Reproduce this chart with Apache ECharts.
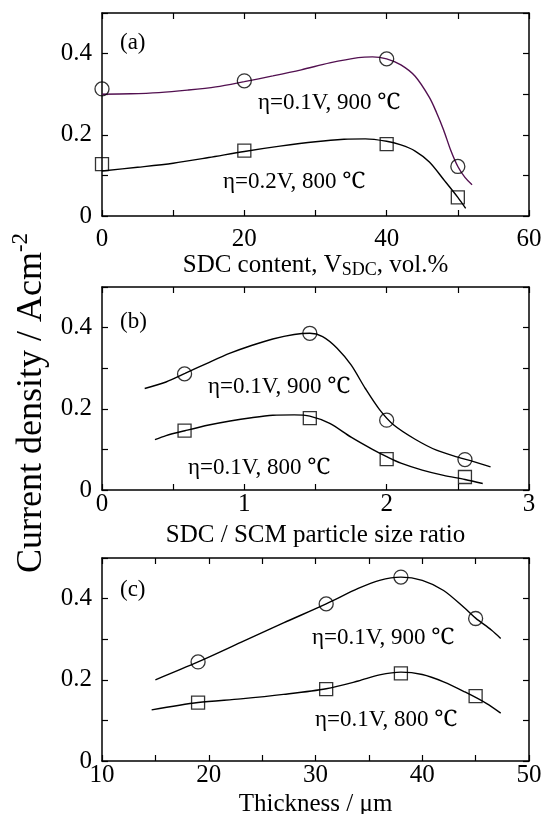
<!DOCTYPE html>
<html>
<head>
<meta charset="utf-8">
<script src="https://cdn.jsdelivr.net/npm/echarts@6/dist/echarts.min.js"></script>
<style>html,body{margin:0;padding:0;background:#fff}#c{width:543px;height:814px}</style>
</head>
<body>
<div id="c"></div>
<script>
// ---------- data ----------
// Panel (a): SDC content (vol.%)
const aX = [0, 20, 40, 50];
const a900 = [0.313, 0.333, 0.387, 0.122];
const a800 = [0.128, 0.161, 0.177, 0.046];
const aFit900 = [[0,0.300],[4,0.301],[8,0.304],[12,0.310],[16,0.318],[20,0.331],[24,0.345],[28,0.360],[32,0.377],[36,0.390],[38,0.392],[40,0.387],[42,0.372],[44,0.344],[46,0.292],[47,0.255],[48,0.212],[49,0.162],[50,0.122],[51,0.095],[52,0.077]];
const aFit800 = [[0,0.111],[5,0.120],[10,0.130],[15,0.144],[20,0.159],[25,0.172],[30,0.183],[34,0.189],[37,0.190],[40,0.184],[42,0.175],[44,0.160],[46,0.133],[48,0.090],[50,0.046],[51.1,0.019]];

// Panel (b): SDC / SCM particle size ratio
const bX = [0.58, 1.46, 2.0, 2.55];
const b900 = [0.286, 0.386, 0.172, 0.075];
const b800 = [0.146, 0.177, 0.076, 0.032];
const bFit900 = [[0.30,0.250],[0.45,0.266],[0.583,0.287],[0.75,0.314],[0.9,0.337],[1.05,0.356],[1.2,0.372],[1.35,0.383],[1.46,0.386],[1.55,0.378],[1.65,0.350],[1.75,0.308],[1.85,0.250],[1.95,0.198],[2.05,0.160],[2.2,0.125],[2.35,0.098],[2.5,0.081],[2.6,0.071],[2.73,0.057]];
const bFit800 = [[0.372,0.124],[0.45,0.134],[0.583,0.146],[0.75,0.160],[0.9,0.170],[1.05,0.178],[1.2,0.184],[1.35,0.185],[1.46,0.182],[1.6,0.164],[1.75,0.130],[1.9,0.100],[2.0,0.082],[2.1,0.066],[2.25,0.049],[2.4,0.036],[2.55,0.026],[2.675,0.016]];

// Panel (c): Thickness (um)
const cX = [19, 31, 38, 45];
const c900 = [0.244, 0.387, 0.453, 0.351];
const c800 = [0.144, 0.177, 0.216, 0.160];
const cFit900 = [[15,0.200],[19,0.244],[23,0.292],[27,0.340],[31,0.387],[34,0.425],[36,0.445],[38,0.453],[40,0.445],[42,0.420],[44,0.376],[45,0.352],[46.5,0.322],[47.35,0.302]];
const cFit800 = [[14.65,0.126],[19,0.144],[23,0.153],[27,0.164],[31,0.178],[34,0.197],[36,0.212],[38,0.219],[40,0.213],[42,0.195],[44,0.170],[46,0.142],[47.35,0.118]];

const xTitles = ['SDC content, V{sub|SDC}, vol.%', 'SDC / SCM particle size ratio', 'Thickness / \u03bcm'];
const yTitle = 'Current density / Acm{sup|-2}';
const panelTags = ['(a)', '(b)', '(c)'];
const labels900 = ['\u03b7=0.1V, 900 \u2103', '\u03b7=0.1V, 900 \u2103', '\u03b7=0.1V, 900 \u2103'];
const labels800 = ['\u03b7=0.2V, 800 \u2103', '\u03b7=0.1V, 800 \u2103', '\u03b7=0.1V, 800 \u2103'];

// ---------- layout / style ----------
const FONT = '"Times New Roman", "Liberation Serif", "Noto Serif", serif';
const grids = [
  {left: 102, right: 14, top: 13, height: 203},
  {left: 102, right: 14, top: 287, height: 203},
  {left: 102, right: 14, top: 558, height: 203}
];
const xCfg = [
  {min: 0, max: 60, interval: 10, labelEvery: 20, margin: 11},
  {min: 0, max: 3, interval: 0.5, labelEvery: 1, margin: 2},
  {min: 10, max: 50, interval: 5, labelEvery: 10, margin: 2}
];
const titleY = [265, 535, 804];

function fmtEvery(step) {
  return function (v) {
    const r = v / step;
    return Math.abs(r - Math.round(r)) < 1e-6 ? String(Math.round(v * 1000) / 1000) : '';
  };
}
const lineStyleAxis = {color: '#000', width: 1.5};
const tickStyle = {show: true, inside: true, length: 6, lineStyle: {color: '#000', width: 1.2}};

const xAxes = [], yAxes = [], series = [], graphic = [];
grids.forEach((g, i) => {
  const xc = xCfg[i];
  xAxes.push({
    gridIndex: i, type: 'value', position: 'bottom', min: xc.min, max: xc.max, interval: xc.interval,
    axisLine: {show: true, onZero: false, lineStyle: lineStyleAxis},
    axisTick: tickStyle,
    axisLabel: {show: true, margin: xc.margin, fontSize: 25, color: '#000', fontFamily: FONT, formatter: fmtEvery(xc.labelEvery)},
    splitLine: {show: false}
  });
  xAxes.push({
    gridIndex: i, type: 'value', position: 'top', min: xc.min, max: xc.max, interval: xc.interval,
    axisLine: {show: true, onZero: false, lineStyle: lineStyleAxis},
    axisTick: tickStyle,
    axisLabel: {show: false}, splitLine: {show: false}
  });
  yAxes.push({
    gridIndex: i, type: 'value', position: 'left', min: 0, max: 0.5, interval: 0.1,
    axisLine: {show: true, onZero: false, lineStyle: lineStyleAxis},
    axisTick: tickStyle,
    axisLabel: {show: true, margin: 10, fontSize: 25, color: '#000', fontFamily: FONT, formatter: fmtEvery(0.2)},
    splitLine: {show: false}
  });
  yAxes.push({
    gridIndex: i, type: 'value', position: 'right', min: 0, max: 0.5, interval: 0.1,
    axisLine: {show: true, onZero: false, lineStyle: lineStyleAxis},
    axisTick: tickStyle,
    axisLabel: {show: false}, splitLine: {show: false}
  });
});

const fits = [[aFit900, aFit800], [bFit900, bFit800], [cFit900, cFit800]];
const pts = [[aX, a900, a800], [bX, b900, b800], [cX, c900, c800]];
const curveColors = [['#521050', '#000'], ['#000', '#000'], ['#000', '#000']];
for (let i = 0; i < 3; i++) {
  const xi = i * 2, yi = i * 2;
  fits[i].forEach((d, k) => {
    series.push({
      type: 'line', xAxisIndex: xi, yAxisIndex: yi, data: d, smooth: 0.3,
      showSymbol: false, lineStyle: {color: curveColors[i][k], width: 1.4}, z: 2, silent: true
    });
  });
  const [xs, up, lo] = pts[i];
  series.push({
    type: 'scatter', xAxisIndex: xi, yAxisIndex: yi, data: xs.map((x, j) => [x, up[j]]),
    symbol: 'circle', symbolSize: 14,
    itemStyle: {color: 'rgba(0,0,0,0)', borderColor: '#000', borderWidth: 1.3}, z: 3, silent: true
  });
  series.push({
    type: 'scatter', xAxisIndex: xi, yAxisIndex: yi, data: xs.map((x, j) => [x, lo[j]]),
    symbol: 'rect', symbolSize: 13,
    itemStyle: {color: 'rgba(0,0,0,0)', borderColor: '#000', borderWidth: 1.3}, z: 3, silent: true
  });
}

// text annotations
const tagPos = [[120, 43], [120, 322], [120, 590]];
const p900 = [[258, 103], [208, 387], [312, 638]];
const p800 = [[223, 182], [188, 468], [315, 720]];
function txt(s, x, y, size) {
  return {
    type: 'text', x: x, y: y, silent: true,
    style: {text: s, fill: '#000', font: size + 'px ' + FONT, textAlign: 'left', textVerticalAlign: 'middle'}
  };
}
for (let i = 0; i < 3; i++) {
  graphic.push(txt(panelTags[i], tagPos[i][0], tagPos[i][1], 23));
  graphic.push(txt(labels900[i], p900[i][0], p900[i][1], 23));
  graphic.push(txt(labels800[i], p800[i][0], p800[i][1], 23));
  graphic.push({
    type: 'text', x: 102 + 427 / 2, y: titleY[i], silent: true,
    style: {
      text: xTitles[i], fill: '#000', fontSize: 25, fontFamily: FONT,
      textAlign: 'center', textVerticalAlign: 'middle',
      rich: {sub: {fontSize: 18, fontFamily: FONT, fill: '#000', padding: [10, 0, 0, 0]}}
    }
  });
}
graphic.push({
  type: 'text', x: 32, y: 403, rotation: Math.PI / 2, silent: true,
  style: {
    text: yTitle, fill: '#000', fontSize: 36, fontFamily: FONT,
    textAlign: 'center', textVerticalAlign: 'middle',
    rich: {sup: {fontSize: 23, fontFamily: FONT, fill: '#000', padding: [0, 0, 22, 0]}}
  }
});

const chart = echarts.init(document.getElementById('c'), null, {renderer: 'canvas'});
chart.setOption({
  animation: false,
  backgroundColor: '#fff',
  grid: grids.map(g => Object.assign({outerBoundsMode: 'none', containLabel: false}, g)),
  xAxis: xAxes,
  yAxis: yAxes,
  series: series,
  graphic: graphic
});
</script>
</body>
</html>
